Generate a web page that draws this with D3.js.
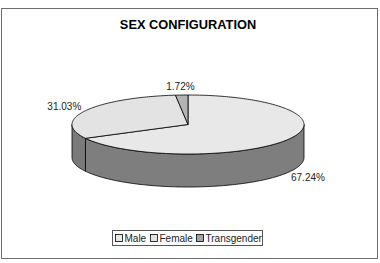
<!DOCTYPE html>
<html>
<head>
<meta charset="utf-8">
<script src="https://cdn.jsdelivr.net/npm/d3@7"></script>
<style>
  body { margin: 0; background: #fff; }
  text { font-family: "Liberation Sans", Arial, sans-serif; }
</style>
</head>
<body>
<script>
var categories = ["Male", "Female", "Transgender"];
var values = [67.24, 31.03, 1.72];
var labels = ["67.24%", "31.03%", "1.72%"];
var topColors = ["#e8e8e8", "#e3e3e3", "#b4b4b4"];
var sideColors = ["#7e7e7e", "#7a7a7a", "#5a5a5a"];
var swatchColors = ["#e8e8e8", "#e3e3e3", "#a6a6a6"];

var width = 380, height = 263;
var cx = 188, cy = 124.5, rx = 116, ry = 29.5, depth = 33;

var svg = d3.select("body").append("svg")
    .attr("width", width)
    .attr("height", height);

// frame
svg.append("rect")
    .attr("x", 1.5).attr("y", 8.5)
    .attr("width", 376).attr("height", 250)
    .attr("fill", "#fff")
    .attr("stroke", "#6e6e6e");

svg.append("text")
    .attr("x", 188).attr("y", 29)
    .attr("text-anchor", "middle")
    .style("font-size", "12.8px")
    .style("font-weight", "bold")
    .text("SEX CONFIGURATION");

var pie = d3.pie().sort(null).startAngle(0).endAngle(2 * Math.PI);
var arcs = pie(values);

function px(a, dy) { return [cx + Math.sin(a) * rx, cy - Math.cos(a) * ry + (dy || 0)]; }

function arcPoints(a0, a1, dy) {
    var n = Math.max(2, Math.ceil((a1 - a0) / 0.02));
    return d3.range(n + 1).map(function(i) { return px(a0 + (a1 - a0) * i / n, dy); });
}

var g = svg.append("g");

// sides (only front half is visible)
arcs.forEach(function(d, i) {
    var a0 = Math.max(d.startAngle, Math.PI / 2),
        a1 = Math.min(d.endAngle, 3 * Math.PI / 2);
    if (a1 <= a0) return;
    var top = arcPoints(a0, a1, 0),
        bottom = arcPoints(a0, a1, depth).reverse();
    g.append("path")
        .attr("d", d3.line()(top.concat(bottom)) + "Z")
        .attr("fill", sideColors[i])
        .attr("stroke", "#000")
        .attr("stroke-width", 0.8)
        .attr("stroke-linejoin", "round");
});

// tops
arcs.forEach(function(d, i) {
    var pts = [[cx, cy]].concat(arcPoints(d.startAngle, d.endAngle, 0));
    g.append("path")
        .attr("d", d3.line()(pts) + "Z")
        .attr("fill", topColors[i])
        .attr("stroke", "#000")
        .attr("stroke-width", 0.8)
        .attr("stroke-linejoin", "round");
});

// labels
arcs.forEach(function(d, i) {
    var m = (d.startAngle + d.endAngle) / 2;
    var ly = -Math.cos(m);
    g.append("text")
        .attr("x", cx + Math.sin(m) * 140)
        .attr("y", cy + ly * 38 + (ly > 0 ? depth : 0))
        .attr("text-anchor", "middle")
        .attr("dy", "0.35em")
        .style("font-size", "10px")
        .style("fill", "#222")
        .text(labels[i]);
});

// legend
var legend = svg.append("g").attr("transform", "translate(112.5,230.5)");
legend.append("rect")
    .attr("width", 150).attr("height", 15)
    .attr("fill", "#fff")
    .attr("stroke", "#555");

var offsets = [3, 38, 84];
categories.forEach(function(c, i) {
    var it = legend.append("g").attr("transform", "translate(" + offsets[i] + ",0)");
    it.append("rect")
        .attr("x", 0).attr("y", 4)
        .attr("width", 7).attr("height", 7)
        .attr("fill", swatchColors[i])
        .attr("stroke", "#000")
        .attr("stroke-width", 0.8);
    it.append("text")
        .attr("x", 9).attr("y", 11.5)
        .style("font-size", "10px")
        .style("fill", "#222")
        .text(c);
});
</script>
</body>
</html>
